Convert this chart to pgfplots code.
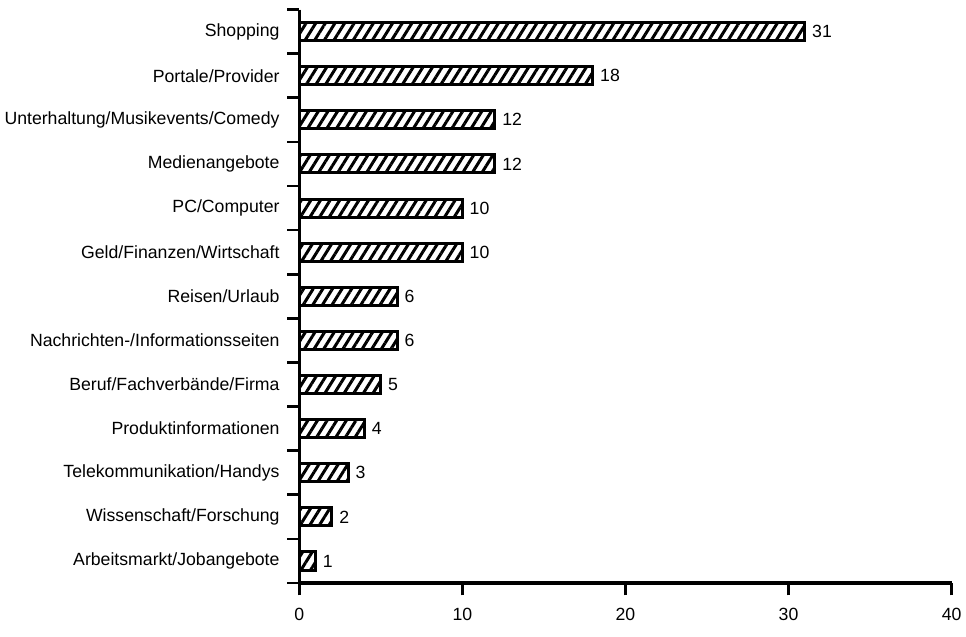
\documentclass[border=0pt]{standalone}
\usepackage{fontspec}
\setmainfont{Liberation Sans}
\usepackage{pgfplots}
\pgfplotsset{compat=1.18}
\usetikzlibrary{patterns.meta}

\begin{document}
\begin{tikzpicture}
\begin{axis}[
  scale only axis,
  width=480pt, height=422pt,
  xbar,
  bar width=0.41,
  xmin=0, xmax=40,
  ymin=-0.5, ymax=12.5,
  y dir=reverse,
  axis lines*=left,
  axis line style={line width=2.4pt},
  xtick={0,10,20,30,40},
  ytick={0,...,12},
  yticklabels={Shopping,Portale/Provider,Unterhaltung/Musikevents/Comedy,Medienangebote,PC/Computer,Geld/Finanzen/Wirtschaft,Reisen/Urlaub,Nachrichten-/Informationsseiten,Beruf/Fachverbände/Firma,Produktinformationen,Telekommunikation/Handys,Wissenschaft/Forschung,Arbeitsmarkt/Jobangebote},
  minor ytick={-0.5,0.5,...,12.5},
  major y tick style={draw=none},
  minor tick length=9pt,
  major tick length=9pt,
  tick align=outside,
  tick style={line width=2pt, black},
  /pgf/number format/assume math mode=true,
  ticklabel style={font=\fontsize{13}{15}\selectfont},
  xticklabel style={yshift=-6pt},
  yticklabel style={xshift=-2pt},
  nodes near coords,
  nodes near coords style={font=\fontsize{13}{15}\selectfont, anchor=west, xshift=1pt},
  point meta=explicit symbolic,
]
\addplot[draw=black, line width=2.2pt,
  pattern={Lines[angle=58, distance=6pt, line width=2.2pt]}]
  coordinates {
  (31,0) [31]
  (18,1) [18]
  (12,2) [12]
  (12,3) [12]
  (10,4) [10]
  (10,5) [10]
  (6,6) [6]
  (6,7) [6]
  (5,8) [5]
  (4,9) [4]
  (3,10) [3]
  (2,11) [2]
  (1,12) [1]
  };
\end{axis}
% whitespace above and below, as in the reference
\path ([yshift=7pt]current axis.north west);
\path ([yshift=-8pt]current bounding box.south);
\end{tikzpicture}
\end{document}
